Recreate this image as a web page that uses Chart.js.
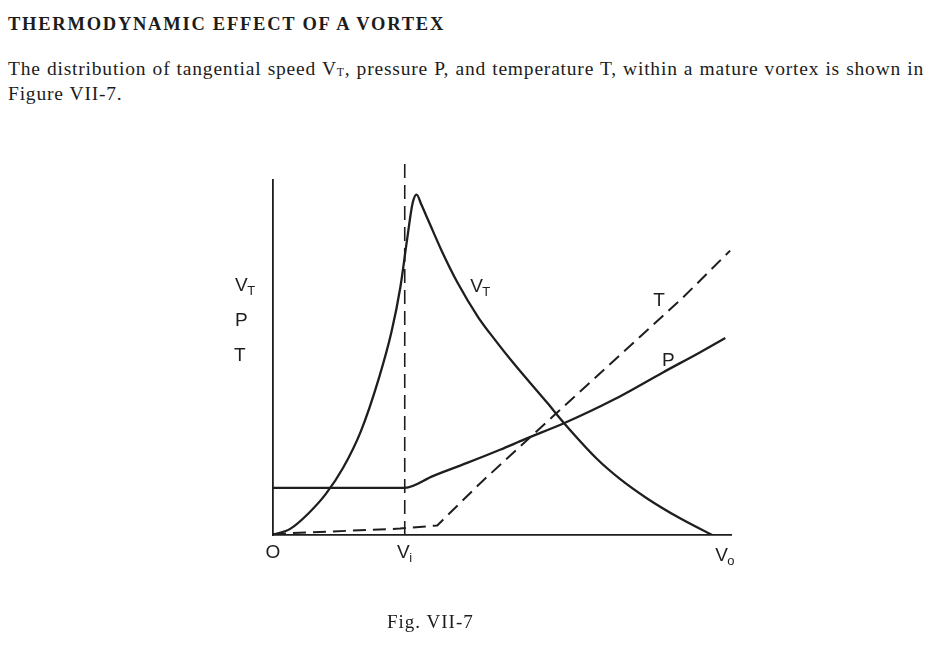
<!DOCTYPE html>
<html>
<head>
<meta charset="utf-8">
<title>Thermodynamic effect of a vortex</title>
<script src="https://cdn.jsdelivr.net/npm/chart.js@4.4.1/dist/chart.umd.min.js"></script>
<style>
body { margin: 0; background: #fff; width: 936px; height: 647px; overflow: hidden; position: relative; }
.txt { position: absolute; font-family: "Liberation Serif", "Times New Roman", serif; color: #1c1c1c; white-space: nowrap; }
#title { left: 8px; top: 14.5px; font-size: 18.5px; line-height: 18.5px; font-weight: bold; letter-spacing: 1.75px; }
#para { left: 8px; top: 58px; font-size: 19.5px; line-height: 22px; letter-spacing: 0.8px; word-spacing: 0.5px; }
#para sub { font-size: 60%; vertical-align: baseline; position: relative; top: 0.1em; }
#caption { left: 387px; top: 612px; font-size: 19px; line-height: 19px; letter-spacing: 1px; }
#chartBox { position: absolute; left: 0; top: 0; width: 936px; height: 647px; }
</style>
</head>
<body>
<div class="txt" id="title">THERMODYNAMIC EFFECT OF A VORTEX</div>
<div class="txt" id="para">The distribution of tangential speed V<sub>T</sub>, pressure P, and temperature T, within a mature vortex is shown in<br>Figure VII-7.</div>
<div id="chartBox"><canvas id="vortexChart" width="936" height="647"></canvas></div>
<div class="txt" id="caption">Fig. VII-7</div>

<script>
// radius, as a fraction of the distance out to Vo (O = 0, Vo = 1)
var vtX = [0, 0.04, 0.08, 0.12, 0.16, 0.20, 0.24, 0.27, 0.29, 0.305, 0.318, 0.327,
           0.338, 0.353, 0.384, 0.421, 0.467, 0.506, 0.547, 0.624, 0.665, 0.738,
           0.790, 0.852, 0.927, 1.0];
var vtY = [0, 1.8, 6.0, 11.5, 19.0, 29.2, 43.7, 57.3, 69.8, 82.9, 93.5, 95.9,
           93.0, 88.8, 80.1, 70.9, 61.4, 54.9, 48.5, 37.3, 31.2, 21.4,
           15.8, 10.3, 4.7, 0];

// pressure: flat inside Vi, then rising
var pX = [0, 0.30, 0.364, 0.442, 0.517, 0.574, 0.665, 0.774, 0.888, 0.973, 1.030];
var pY = [13.3, 13.3, 16.6, 20.3, 24.0, 27.0, 31.6, 38.0, 45.8, 51.5, 55.5];

// temperature (dashed)
var tX = [0, 0.289, 0.374, 0.472, 0.647, 0.932, 1.041];
var tY = [0.3, 1.8, 2.7, 14.6, 34.5, 66.7, 80.1];

// inner radius Vi, drawn as a dashed vertical
var viX = 0.30;
var viTop = 105;

// x axis tick labels: main letter + subscript
var tickValues = [0, viX, 1];
var tickMain = ['O', 'V', 'V'];
var tickSub = ['', 'i', 'o'];

var ink = '#1e1e1e';
var mainFont = '19px "Liberation Sans", Arial, sans-serif';
var subFont = '13px "Liberation Sans", Arial, sans-serif';

function pts(xs, ys) {
    return xs.map(function (x, i) { return { x: x, y: ys[i] }; });
}

// letter with a small subscript, like V with T under it
function drawSub(ctx, main, sub, x, y, center) {
    ctx.font = mainFont;
    var w1 = ctx.measureText(main).width;
    ctx.font = subFont;
    var w2 = sub ? ctx.measureText(sub).width : 0;
    var left = center ? x - (w1 + w2) / 2 : x;
    ctx.font = mainFont;
    ctx.fillText(main, left, y);
    if (sub) {
        ctx.font = subFont;
        ctx.fillText(sub, left + w1 - 0.5, y + 4);
    }
}

var labelPlugin = {
    id: 'subLabels',
    afterDraw: function (chart) {
        var ctx = chart.ctx, xs = chart.scales.x, ys = chart.scales.y, area = chart.chartArea;
        ctx.save();
        ctx.fillStyle = ink;
        ctx.textAlign = 'left';
        ctx.textBaseline = 'alphabetic';
        var shiftX = [0, 0, 13], shiftY = [0, 0, 3];
        for (var i = 0; i < tickValues.length; i++) {
            drawSub(ctx, tickMain[i], tickSub[i], xs.getPixelForValue(tickValues[i]) + shiftX[i], area.bottom + 23 + shiftY[i], true);
        }
        // axis name stack on the left
        drawSub(ctx, 'V', 'T', area.left - 38, area.top + 111, false);
        drawSub(ctx, 'P', '', area.left - 38, area.top + 146, false);
        drawSub(ctx, 'T', '', area.left - 39, area.top + 181, false);
        // curve names
        drawSub(ctx, 'V', 'T', xs.getPixelForValue(0.449), ys.getPixelForValue(68.4), false);
        drawSub(ctx, 'T', '', xs.getPixelForValue(0.866), ys.getPixelForValue(64.6), false);
        drawSub(ctx, 'P', '', xs.getPixelForValue(0.886), ys.getPixelForValue(47.7), false);
        ctx.restore();
    }
};

var ctx = document.getElementById('vortexChart').getContext('2d');
var chart = new Chart(ctx, {
    type: 'line',
    data: {
        datasets: [{
            label: 'VT',
            data: pts(vtX, vtY),
            borderColor: ink,
            borderWidth: 2.3,
            cubicInterpolationMode: 'monotone'
        }, {
            label: 'P',
            data: pts(pX, pY),
            borderColor: ink,
            borderWidth: 2.3,
            cubicInterpolationMode: 'monotone'
        }, {
            label: 'T',
            data: pts(tX, tY),
            borderColor: ink,
            borderWidth: 2,
            borderDash: [13, 7],
            tension: 0
        }, {
            label: 'Vi',
            data: [{ x: viX, y: 0 }, { x: viX, y: viTop }],
            borderColor: ink,
            borderWidth: 1.6,
            borderDash: [14, 7],
            clip: false
        }]
    },
    options: {
        responsive: false,
        animation: false,
        events: [],
        elements: { point: { radius: 0 } },
        layout: { padding: { left: 273, right: 205, top: 180, bottom: 112 } },
        plugins: { legend: { display: false }, tooltip: { enabled: false } },
        scales: {
            x: {
                type: 'linear', min: 0, max: 1.043,
                grid: { display: false },
                ticks: { display: false },
                border: { color: ink, width: 1.8 },
                afterFit: function (s) { s.height = 0; }
            },
            y: {
                min: 0, max: 100,
                grid: { display: false },
                ticks: { display: false },
                border: { color: ink, width: 1.8 },
                afterFit: function (s) { s.width = 0; }
            }
        }
    },
    plugins: [labelPlugin]
});
</script>
</body>
</html>
